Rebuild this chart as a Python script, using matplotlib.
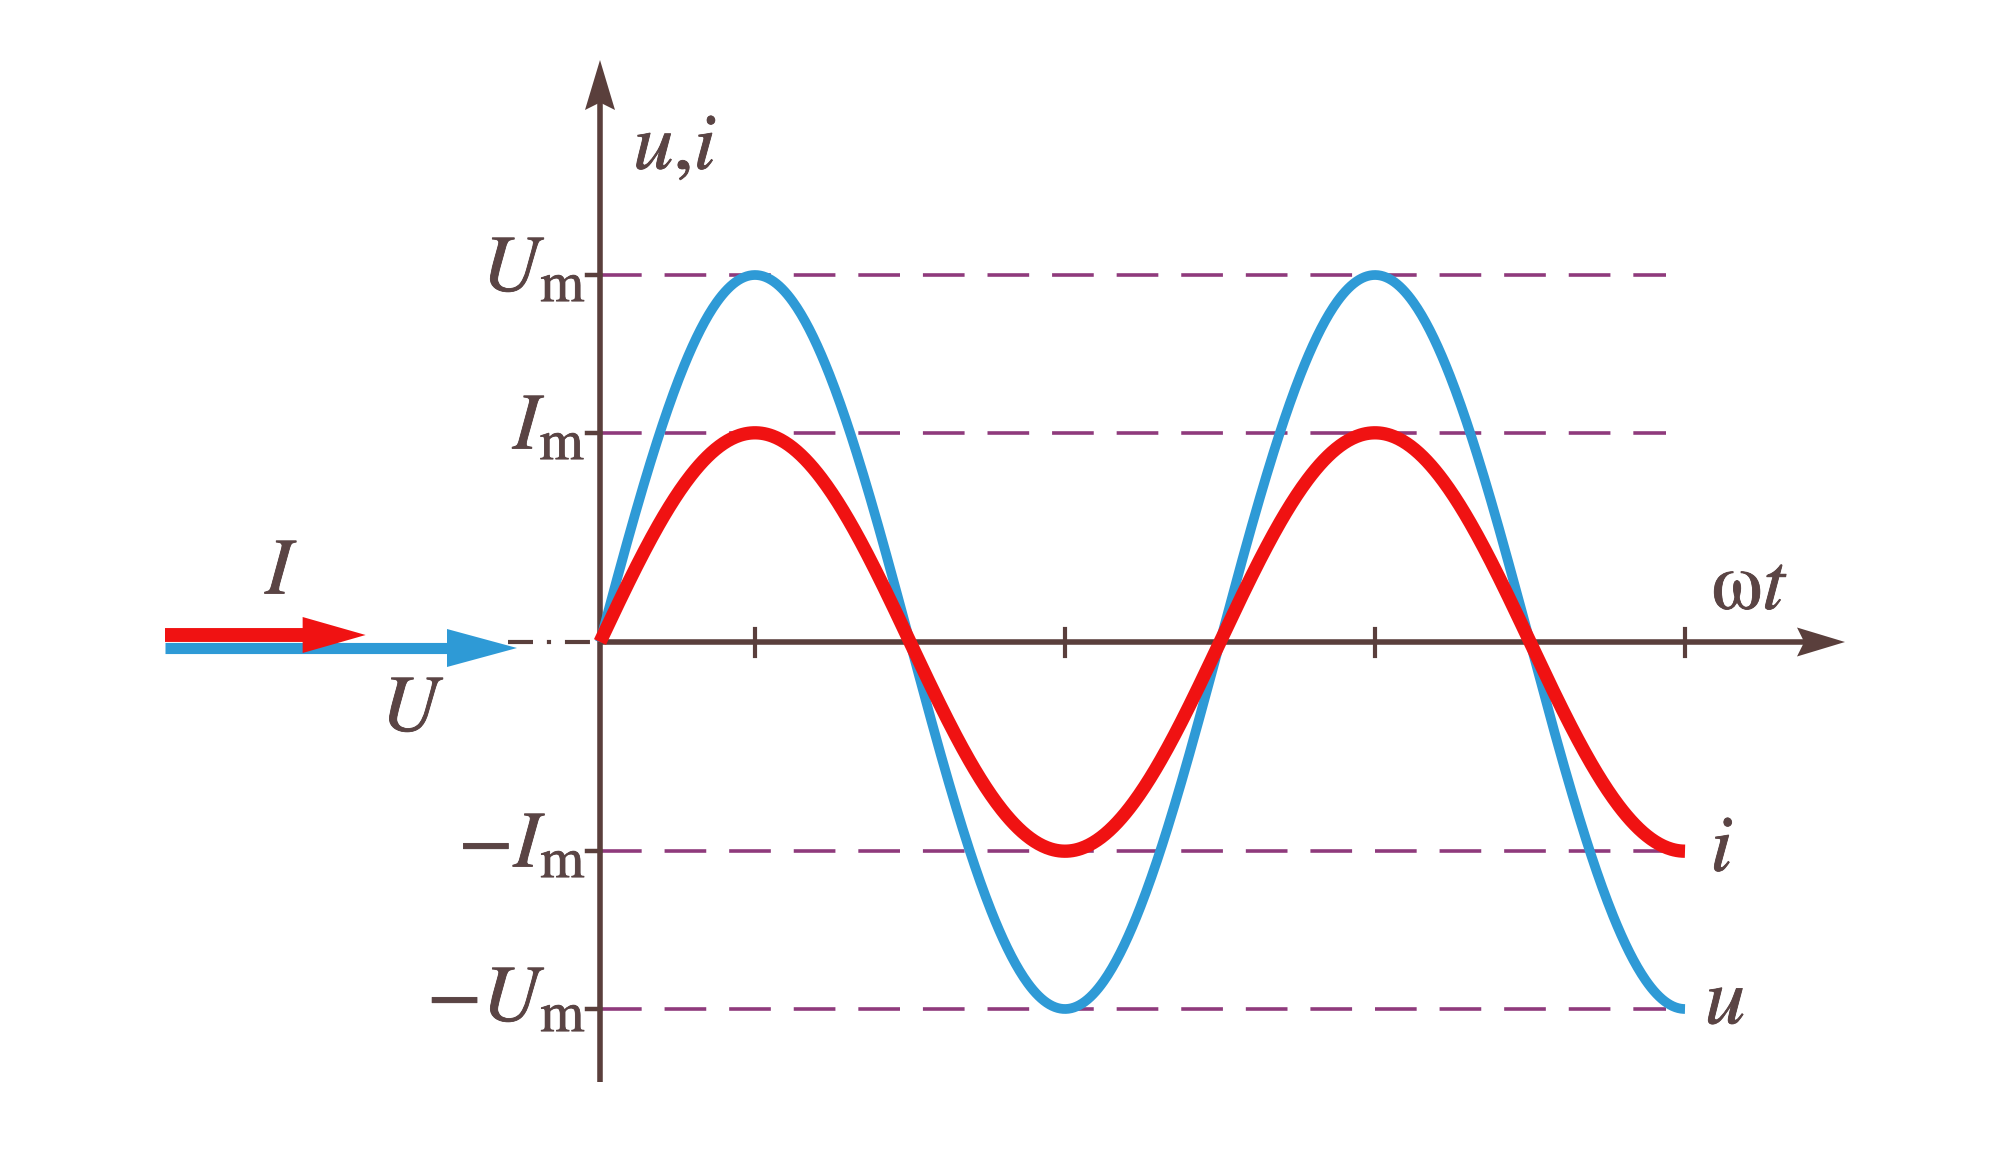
import numpy as np
import matplotlib
matplotlib.use("Agg")
import matplotlib.pyplot as plt
import matplotlib.patheffects as pe

plt.rcParams['mathtext.fontset'] = 'stix'
plt.rcParams['font.family'] = ['STIXGeneral', 'Liberation Serif', 'DejaVu Serif']
plt.rcParams['lines.scale_dashes'] = False

# values (amplitudes in units of U_m, angles in rad)
U_m = 1.0
I_m = 0.57
wt_end = 3.5 * np.pi
x_ticks = [0.5 * np.pi, 1.5 * np.pi, 2.5 * np.pi, 3.5 * np.pi]
levels = [U_m, I_m, -I_m, -U_m]
level_labels = [r"$U_\mathrm{m}$", r"$I_\mathrm{m}$", r"$-I_\mathrm{m}$", r"$-U_\mathrm{m}$"]
dash_end = 3.44 * np.pi

blue = "#2e9ad6"
red = "#f01212"
axc = "#5a3f3c"
dashc = "#8f3a7c"
txtc = "#5a4444"

W, H = 2010, 1152
X0, Y0 = 600, 642          # origin in pixels (from top left)
PXX = 155 / (np.pi / 2)    # pixels per rad
PXY = 367                  # pixels per U_m


def P(px, py):
    return (px - X0) / PXX, (Y0 - py) / PXY


fig = plt.figure(figsize=(W / 100, H / 100), dpi=100)
ax = fig.add_axes([0, 0, 1, 1])
ax.set_xlim(P(0, 0)[0], P(W, 0)[0])
ax.set_ylim(P(0, H)[1], P(0, 0)[1])
ax.axis("off")


def head(tx, ty, d, L, Wd, color, notch=1.0, z=3):
    # tx, ty in pixels, d = 'r' or 'u'
    if d == 'r':
        pts = [(tx, ty), (tx - L, ty - Wd / 2), (tx - notch * L, ty), (tx - L, ty + Wd / 2)]
    else:
        pts = [(tx, ty), (tx - Wd / 2, ty + L), (tx, ty + notch * L), (tx + Wd / 2, ty + L)]
    xs, ys = zip(*[P(*p) for p in pts])
    ax.fill(xs, ys, color=color, lw=0, zorder=z)


# dashed level lines
for lv in levels:
    ax.plot([0, dash_end], [lv, lv], color=dashc, lw=2.6, dashes=(30, 16.5), zorder=1)

# axes
ax.plot([0, 0], [P(0, 1082)[1], P(0, 100)[1]], color=axc, lw=4, solid_capstyle='butt', zorder=2)
head(600, 60, 'u', 50, 30, axc, notch=0.85, z=2)
ax.plot([0, P(1805, 0)[0]], [0, 0], color=axc, lw=4, solid_capstyle='butt', zorder=2)
head(1845, 642, 'r', 48, 29, axc, notch=0.85, z=2)
ax.plot([P(508, 0)[0], 0], [0, 0], color=axc, lw=3.0, dashes=(18, 10, 3, 10), zorder=2)

# ticks
for xt in x_ticks:
    ax.plot([xt, xt], [P(0, 629)[1], P(0, 656)[1]], color=axc, lw=3, zorder=2)
for lv in levels:
    ax.plot([P(587, 0)[0], 0], [lv, lv], color=axc, lw=3.2, zorder=2)

# curves
wt = np.linspace(0, wt_end, 800)
ax.plot(wt, U_m * np.sin(wt), color=blue, lw=7, solid_capstyle='butt', zorder=4)
ax.plot(wt, I_m * np.sin(wt), color=red, lw=9.6, solid_capstyle='butt', zorder=5)

# phasor arrows (length proportional to amplitude)
x_start = P(165, 0)[0]
scale = P(517, 0)[0] - x_start
yb = P(0, 648)[1]
yr = P(0, 635)[1]
xb_tip = x_start + scale * U_m
xr_tip = x_start + scale * I_m
ax.plot([x_start, xb_tip - 60 / PXX], [yb, yb], color=blue, lw=8, solid_capstyle='butt', zorder=4)
head(X0 + xb_tip * PXX, 648, 'r', 70, 38, blue, z=4)
ax.plot([x_start, xr_tip - 55 / PXX], [yr, yr], color=red, lw=10, solid_capstyle='butt', zorder=5)
head(X0 + xr_tip * PXX, 635, 'r', 63, 36, red, z=5)

fs = 58
bold = [pe.withStroke(linewidth=0.6, foreground=txtc)]
# level labels
for lv, lab, py in zip(levels, level_labels, [272, 430, 848, 1002]):
    ax.text(P(586, 0)[0], P(0, py)[1], lab, fontsize=fs, color=txtc, ha='right', va='center',
            path_effects=bold)

ax.text(*P(675, 150), r"$u{,}i$", fontsize=fs, color=txtc, ha='center', va='center', path_effects=bold)
ax.text(*P(1750, 590), r"$\mathrm{\omega}t$", fontsize=fs, color=txtc, ha='center', va='center',
        path_effects=bold)
ax.text(*P(1722, 852), r"$i$", fontsize=fs, color=txtc, ha='center', va='center', path_effects=bold)
ax.text(*P(1725, 1005), r"$u$", fontsize=fs, color=txtc, ha='center', va='center', path_effects=bold)
ax.text(*P(282, 575), r"$I$", fontsize=fs, color=txtc, ha='center', va='center', path_effects=bold)
ax.text(*P(413, 712), r"$U$", fontsize=fs, color=txtc, ha='center', va='center', path_effects=bold)

fig.savefig("out.png", dpi=100, facecolor="white")
